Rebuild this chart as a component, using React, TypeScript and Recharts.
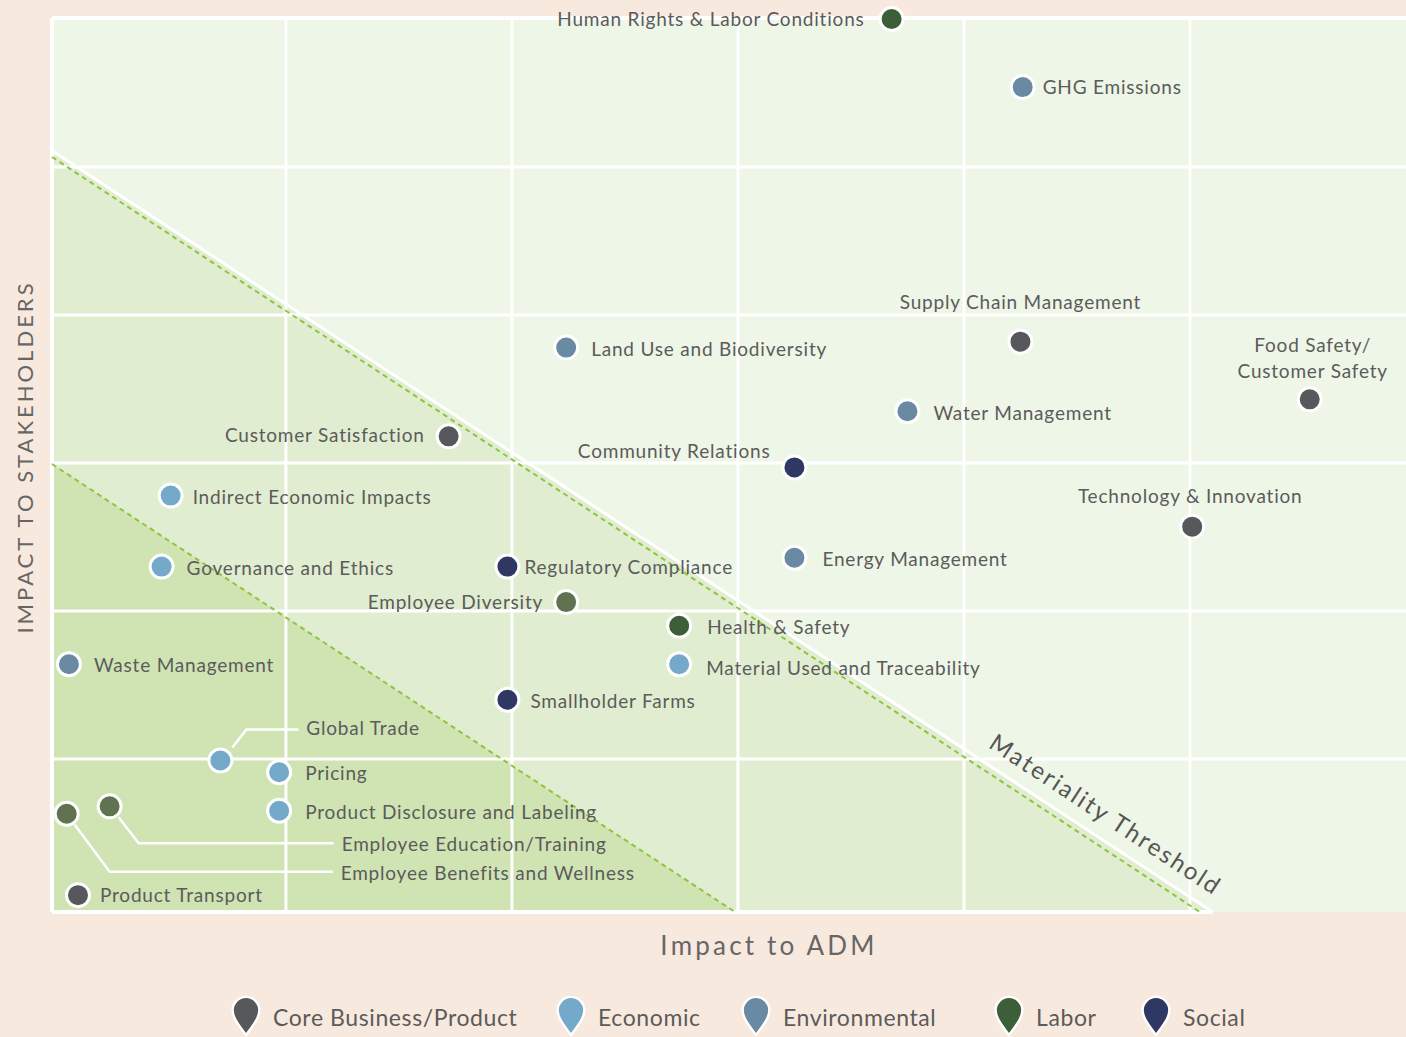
import React from 'react';
import { ComposedChart, XAxis, YAxis, CartesianGrid, Area, Line, Scatter, ReferenceLine, ReferenceDot } from 'recharts';

// topic values (grid units on both axes)
const TOPICS = [
  'Human Rights & Labor Conditions', 'GHG Emissions', 'Supply Chain Management', 'Food Safety/Customer Safety',
  'Land Use and Biodiversity', 'Water Management', 'Customer Satisfaction', 'Community Relations',
  'Indirect Economic Impacts', 'Technology & Innovation', 'Governance and Ethics', 'Regulatory Compliance',
  'Energy Management', 'Employee Diversity', 'Health & Safety', 'Waste Management',
  'Material Used and Traceability', 'Smallholder Farms', 'Global Trade', 'Pricing',
  'Product Disclosure and Labeling', 'Employee Education/Training', 'Employee Benefits and Wellness', 'Product Transport',
];
const ADM_IMPACT = [3.68, 4.26, 4.25, 5.53, 2.24, 3.75, 1.72, 3.25, 0.49, 5.01, 0.45, 1.98, 3.25, 2.24, 2.74, 0.04, 2.74, 1.98, 0.71, 0.97, 0.97, 0.22, 0.03, 0.08];
const STAKEHOLDER_IMPACT = [6.0, 5.54, 3.82, 3.43, 3.78, 3.35, 3.18, 2.97, 2.78, 2.57, 2.3, 2.3, 2.36, 2.06, 1.9, 1.64, 1.64, 1.4, 0.99, 0.91, 0.65, 0.68, 0.63, 0.08];
const TOPIC_CATEGORY = [
  'Labor', 'Environmental', 'Core', 'Core', 'Environmental', 'Environmental', 'Core', 'Social',
  'Economic', 'Core', 'Economic', 'Social', 'Environmental', 'Employees', 'Labor', 'Environmental',
  'Economic', 'Social', 'Economic', 'Economic', 'Economic', 'Employees', 'Employees', 'Core',
];

const LEGEND_KEYS = ['Core', 'Economic', 'Environmental', 'Labor', 'Social'];
const LEGEND_LABELS = ['Core Business/Product', 'Economic', 'Environmental', 'Labor', 'Social'];

const X_MIN = -0.035;
const X_MAX = 5.956;
const Y_MIN = -0.034;
const Y_MAX = 6.007;
const THRESHOLD_X = [X_MIN, 5.044];
const THRESHOLD_Y = [5.068, Y_MIN];
const THRESHOLD_EDGE_X = [X_MIN, 5.1];
const THRESHOLD_EDGE_Y = [5.11, Y_MIN];
const INNER_X = [X_MIN, 2.987];
const INNER_Y = [2.993, Y_MIN];
const GRID_TICKS = [1, 2, 3, 4, 5];

const COLORS: Record<string, string> = {
  Core: '#56585b',
  Economic: '#74a9c9',
  Environmental: '#6a89a2',
  Labor: '#3c5e38',
  Social: '#2f3863',
  Employees: '#5f7350',
};

// label placement in pixels relative to the dot
type Place = { dx: number; dy: number; anchor: 'start' | 'middle' | 'end'; leader?: number[][] };
const PLACES: Place[] = [
  { dx: -27, dy: 0, anchor: 'end' },
  { dx: 20, dy: 0, anchor: 'start' },
  { dx: 0, dy: -40, anchor: 'middle' },
  { dx: 3, dy: -41, anchor: 'middle' },
  { dx: 25, dy: 1, anchor: 'start' },
  { dx: 26, dy: 2, anchor: 'start' },
  { dx: -24, dy: -1, anchor: 'end' },
  { dx: -24, dy: -16, anchor: 'end' },
  { dx: 22, dy: 1, anchor: 'start' },
  { dx: -2, dy: -31, anchor: 'middle' },
  { dx: 25, dy: 1, anchor: 'start' },
  { dx: 17, dy: 0, anchor: 'start' },
  { dx: 28, dy: 1, anchor: 'start' },
  { dx: -23, dy: 0, anchor: 'end' },
  { dx: 28, dy: 1, anchor: 'start' },
  { dx: 25, dy: 1, anchor: 'start' },
  { dx: 27, dy: 4, anchor: 'start' },
  { dx: 23, dy: 1, anchor: 'start' },
  { dx: 86, dy: -32, anchor: 'start', leader: [[12, -13], [26, -31], [78, -31]] },
  { dx: 26, dy: 1, anchor: 'start' },
  { dx: 26, dy: 1, anchor: 'start' },
  { dx: 232, dy: 38, anchor: 'start', leader: [[9, 11], [29, 37], [224, 37]] },
  { dx: 274, dy: 59, anchor: 'start', leader: [[8, 11], [43, 58], [266, 58]] },
  { dx: 22, dy: 0, anchor: 'start' },
];
const LEGEND_X = [230, 555, 740, 993, 1140];

const points = TOPICS.map((name, i) => ({
  name,
  x: ADM_IMPACT[i],
  y: STAKEHOLDER_IMPACT[i],
  category: TOPIC_CATEGORY[i],
  idx: i,
}));
const thresholdData = THRESHOLD_X.map((x, i) => ({ x, y: THRESHOLD_Y[i] }));
const edgeData = THRESHOLD_EDGE_X.map((x, i) => ({ x, y: THRESHOLD_EDGE_Y[i] }));
const innerData = INNER_X.map((x, i) => ({ x, y: INNER_Y[i] }));

const FONT = 'Lato, "Open Sans", sans-serif';
const TEXT = '#5b5b5b';

const TopicDot = (props: any) => {
  const { cx, cy, payload } = props;
  const p = PLACES[payload.idx];
  const lines: string[] = payload.name === 'Food Safety/Customer Safety' ? ['Food Safety/', 'Customer Safety'] : [payload.name];
  return (
    <g>
      {p.leader && (
        <polyline
          points={p.leader.map(([dx, dy]) => `${cx + dx},${cy + dy}`).join(' ')}
          fill="none"
          stroke="#fff"
          strokeWidth={2.5}
        />
      )}
      <circle cx={cx} cy={cy} r={11.5} fill={COLORS[payload.category]} stroke="#fff" strokeWidth={3} />
      <text
        x={cx + p.dx}
        y={cy + p.dy}
        textAnchor={p.anchor}
        fontFamily={FONT}
        fontSize={19}
        letterSpacing={0.8}
        fill={TEXT}
      >
        {lines.map((l, k) => (
          <tspan key={k} x={cx + p.dx} dy={k === 0 ? (lines.length > 1 ? -6 : 7) : 26}>
            {l}
          </tspan>
        ))}
      </text>
    </g>
  );
};

const ThresholdLabel = (props: any) => {
  const { cx, cy } = props;
  return (
    <text
      x={cx}
      y={cy}
      transform={`rotate(33.3 ${cx} ${cy})`}
      textAnchor="middle"
      dominantBaseline="central"
      fontFamily={FONT}
      fontSize={24}
      letterSpacing={2.3}
      fill="#555"
    >
      Materiality Threshold
    </text>
  );
};

const Pin = ({ color }: { color: string }) => (
  <svg width={32} height={42} viewBox="-2 -2 32 44">
    <path d="M14,40 C5,28 0,21 0,14 A14,14 0 1 1 28,14 C28,21 23,28 14,40 Z" fill={color} stroke="#fff" strokeWidth={2.5} />
  </svg>
);

export default function App() {
  return (
    <div style={{ position: 'relative', width: 1406, height: 1037, background: '#f8e9df', overflow: 'hidden' }}>
      <style>{'html,body{margin:0;background:#f8e9df;}'}</style>
      <ComposedChart width={1406} height={1037} margin={{ top: 18, right: 0, bottom: 125, left: 52 }}>
        <CartesianGrid fill="#eef6e7" horizontal={false} vertical={false} />
        <XAxis type="number" dataKey="x" domain={[X_MIN, X_MAX]} hide />
        <YAxis type="number" dataKey="y" domain={[Y_MIN, Y_MAX]} hide />
        <Area data={edgeData} dataKey="y" type="linear" baseValue={Y_MIN} fill="#e1edd0" fillOpacity={1} stroke="#fff" strokeWidth={3} isAnimationActive={false} />
        <Area data={innerData} dataKey="y" type="linear" baseValue={Y_MIN} fill="#cfe3b3" fillOpacity={1} stroke="none" isAnimationActive={false} />
        {GRID_TICKS.map((t) => (
          <ReferenceLine key={`v${t}`} x={t} stroke="#fff" strokeWidth={3} />
        ))}
        {GRID_TICKS.map((t) => (
          <ReferenceLine key={`h${t}`} y={t} stroke="#fff" strokeWidth={3} />
        ))}
        <ReferenceLine x={X_MIN} stroke="#fff" strokeWidth={4} />
        <ReferenceLine y={Y_MAX} stroke="#fff" strokeWidth={4} />
        <ReferenceLine segment={[{ x: X_MIN, y: Y_MIN }, { x: 5.1, y: Y_MIN }]} stroke="#fff" strokeWidth={4} />
        <Line data={thresholdData} dataKey="y" type="linear" stroke="#8cc63f" strokeWidth={2} strokeDasharray="5 4" dot={false} isAnimationActive={false} />
        <Line data={innerData} dataKey="y" type="linear" stroke="#8cc63f" strokeWidth={2} strokeDasharray="5 4" dot={false} isAnimationActive={false} />
        <ReferenceDot x={4.63} y={0.63} r={0} shape={ThresholdLabel} />
        <Scatter data={points} shape={TopicDot} isAnimationActive={false} />
      </ComposedChart>

      <div
        style={{
          position: 'absolute', left: 769, top: 945, transform: 'translate(-50%, -50%)',
          fontFamily: FONT, fontSize: 26, letterSpacing: 3.2, color: '#666', whiteSpace: 'nowrap',
        }}
      >
        Impact to ADM
      </div>
      <div
        style={{
          position: 'absolute', left: 24, top: 457, transform: 'translate(-50%, -50%) rotate(-90deg)',
          fontFamily: FONT, fontSize: 22, letterSpacing: 3, color: '#666', whiteSpace: 'nowrap',
        }}
      >
        IMPACT TO STAKEHOLDERS
      </div>

      {LEGEND_KEYS.map((k, i) => (
        <div
          key={k}
          style={{
            position: 'absolute', top: 995, left: LEGEND_X[i], display: 'flex', alignItems: 'center',
            fontFamily: FONT, fontSize: 23, letterSpacing: 0.6, color: TEXT, whiteSpace: 'nowrap',
          }}
        >
          <Pin color={COLORS[k]} />
          <span style={{ marginLeft: 11, marginTop: 2 }}>{LEGEND_LABELS[i]}</span>
        </div>
      ))}
    </div>
  );
}
